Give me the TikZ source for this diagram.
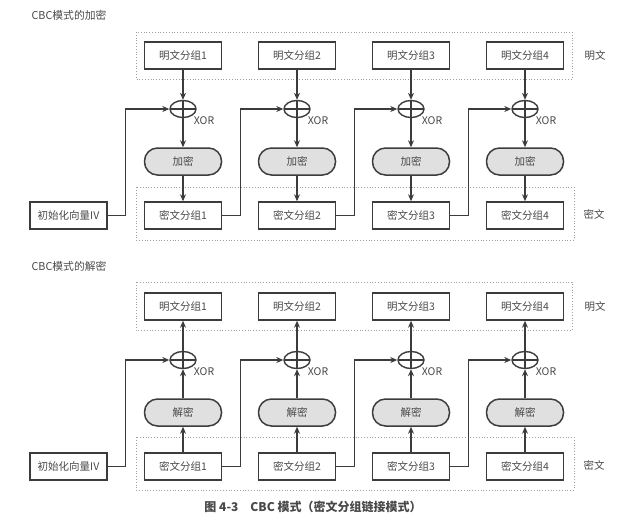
\documentclass[tikz,border=0pt]{standalone}
\usepackage{fontspec}
\setmainfont{Noto Sans CJK SC}
\usetikzlibrary{shapes.geometric,arrows.meta}
\definecolor{ink}{HTML}{3C3C3C}
\definecolor{txt}{HTML}{484848}
\definecolor{opfill}{HTML}{E0E0E0}

\begin{document}
\begin{tikzpicture}[x=1pt, y=-1pt, font=\fontsize{10.5}{12}\selectfont,
  block/.style={draw=ink, line width=1.5pt, text=txt, minimum width=77pt, minimum height=27pt, inner sep=0pt},
  cipherop/.style={block, fill=opfill, rounded corners=13pt},
  group/.style={draw=gray!75, dotted, line width=0.8pt},
  xorgate/.style={ellipse, draw=ink, line width=1.4pt, minimum width=26pt, minimum height=17pt, inner sep=0pt,
    path picture={\draw[ink, line width=1.2pt] (path picture bounding box.north) -- (path picture bounding box.south)
      (path picture bounding box.west) -- (path picture bounding box.east);}},
  xortext/.style={text=txt, inner sep=1pt},
  flow/.style={draw=ink, line width=1.4pt, -{Stealth[length=7pt,width=6pt]}},
  side/.style={text=txt}]

\useasboundingbox (0,0) rectangle (640,523);

% encryption
\node[side, anchor=west, font=\fontsize{10.8}{12}\selectfont] (enctitle) at (28,15) {CBC模式的加密};
\draw[group] (136,32) rectangle (572,79);
\draw[group] (136,187) rectangle (574,240);
\node[side] (encplain) at (595,56) {明文};
\node[side] (enccipher) at (594,214) {密文};

\node[block] (eiv) at (68.5,215.5) {初始化向量IV};
\foreach \i in {1,...,4} {
  \pgfmathsetmacro{\cx}{183+114*(\i-1)}
  \node[block] (ep\i) at (\cx,55.5) {明文分组\i};
  \node[xorgate, label={[xortext]south east:XOR}] (ex\i) at (\cx,109) {};
  \node[cipherop] (ee\i) at (\cx,161.5) {加密};
  \node[block] (ec\i) at (\cx,215.5) {密文分组\i};
  \draw[flow] (ep\i) -- (ex\i);
  \draw[flow] (ex\i) -- (ee\i);
  \draw[flow] (ee\i) -- (ec\i);
}
\draw[flow] (eiv.east) -- ++(18,0) |- (ex1.west);
\foreach \i/\j in {1/2,2/3,3/4}
  \draw[flow] (ec\i.east) -- ++(18,0) |- (ex\j.west);

% decryption
\node[side, anchor=west, font=\fontsize{10.8}{12}\selectfont] (dectitle) at (28,266) {CBC模式的解密};
\draw[group] (136,282) rectangle (572,330);
\draw[group] (136,437) rectangle (574,490);
\node[side] (decplain) at (595,307) {明文};
\node[side] (deccipher) at (594,465) {密文};

\node[block] (div) at (68.5,466.5) {初始化向量IV};
\foreach \i in {1,...,4} {
  \pgfmathsetmacro{\cx}{183+114*(\i-1)}
  \node[block] (dp\i) at (\cx,306.5) {明文分组\i};
  \node[xorgate, label={[xortext]south east:XOR}] (dx\i) at (\cx,360) {};
  \node[cipherop] (dd\i) at (\cx,412.5) {解密};
  \node[block] (dc\i) at (\cx,466.5) {密文分组\i};
  \draw[flow] (dc\i) -- (dd\i);
  \draw[flow] (dd\i) -- (dx\i);
  \draw[flow] (dx\i) -- (dp\i);
}
\draw[flow] (div.east) -- ++(18,0) |- (dx1.west);
\foreach \i/\j in {1/2,2/3,3/4}
  \draw[flow] (dc\i.east) -- ++(18,0) |- (dx\j.west);

\node[text=txt, font=\fontsize{12}{14}\selectfont\bfseries] (caption) at (313,507) {图 4-3\quad CBC 模式（密文分组链接模式）};

\end{tikzpicture}
\end{document}
